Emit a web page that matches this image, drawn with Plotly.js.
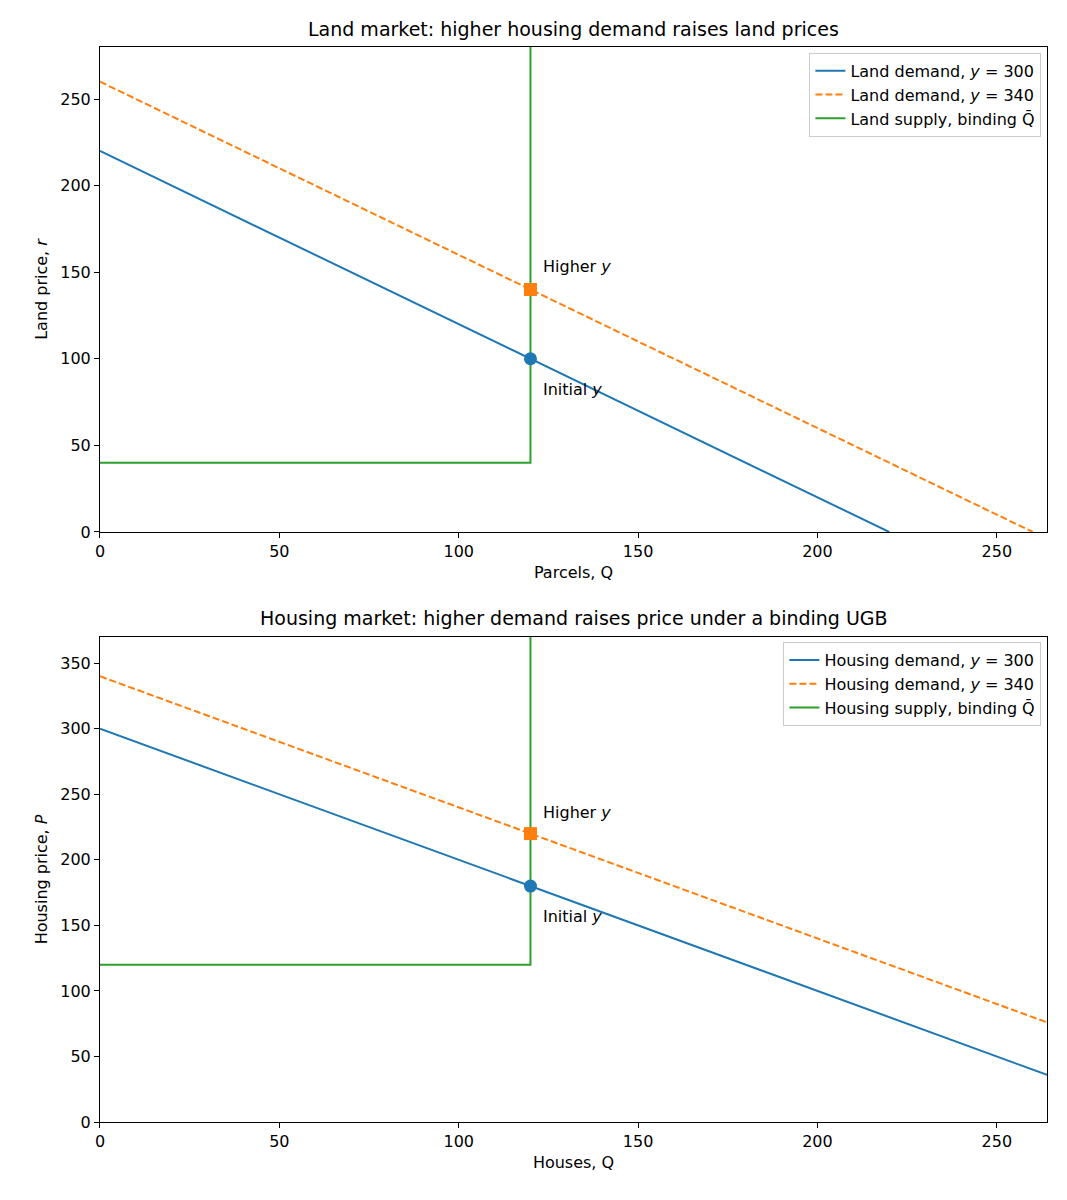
<!DOCTYPE html>
<html>
<head>
<meta charset="utf-8">
<script src="https://cdn.plot.ly/plotly-3.0.1.min.js"></script>
<style>body{margin:0;background:#fff}#chart{width:1067px;height:1200px}</style>
</head>
<body>
<div id="chart"></div>
<script>
// Land market
var landQ = [0, 220];
var landDemand300 = [220, 0];
var landQHigh = [0, 260];
var landDemand340 = [260, 0];
var landSupplyQ = [0, 120, 120];
var landSupplyR = [40, 40, 280];
var landEqQ = [120], landEqLow = [100], landEqHigh = [140];

// Housing market
var houseQ = [0, 264];
var houseDemand300 = [300, 36];
var houseDemand340 = [340, 76];
var houseSupplyQ = [0, 120, 120];
var houseSupplyP = [120, 120, 370];
var houseEqQ = [120], houseEqLow = [180], houseEqHigh = [220];

var blue = "#1f77b4", orange = "#ff7f0e", green = "#2ca02c";
var font = { family: "DejaVu Sans", size: 16, color: "#000" };
var titleFont = { family: "DejaVu Sans", size: 19, color: "#000" };

function line(x, y, color, dash, name, xa, ya, leg) {
    return { x: x, y: y, mode: "lines", type: "scatter", name: name,
        line: { color: color, width: 2, dash: dash }, xaxis: xa, yaxis: ya, legend: leg };
}
function dot(x, y, color, symbol, xa, ya) {
    return { x: x, y: y, mode: "markers", type: "scatter", showlegend: false,
        marker: { color: color, size: 13, symbol: symbol }, xaxis: xa, yaxis: ya };
}

var dash = "7px,3px";
var traces = [
    line(landQ, landDemand300, blue, "solid", "Land demand, <i>y</i> = 300", "x", "y", "legend"),
    line(landQHigh, landDemand340, orange, dash, "Land demand, <i>y</i> = 340", "x", "y", "legend"),
    line(landSupplyQ, landSupplyR, green, "solid", "Land supply, binding Q̄", "x", "y", "legend"),
    dot(landEqQ, landEqLow, blue, "circle", "x", "y"),
    dot(landEqQ, landEqHigh, orange, "square", "x", "y"),
    line(houseQ, houseDemand300, blue, "solid", "Housing demand, <i>y</i> = 300", "x2", "y2", "legend2"),
    line(houseQ, houseDemand340, orange, dash, "Housing demand, <i>y</i> = 340", "x2", "y2", "legend2"),
    line(houseSupplyQ, houseSupplyP, green, "solid", "Housing supply, binding Q̄", "x2", "y2", "legend2"),
    dot(houseEqQ, houseEqLow, blue, "circle", "x2", "y2"),
    dot(houseEqQ, houseEqHigh, orange, "square", "x2", "y2")
];

function axis(extra) {
    var a = { showgrid: false, zeroline: false, showline: true, mirror: true,
        linecolor: "#000", linewidth: 1, ticks: "outside", ticklen: 5,
        tickcolor: "#000", tickfont: font };
    for (var k in extra) a[k] = extra[k];
    return a;
}
var legendStyle = { font: font, bgcolor: "rgba(255,255,255,0.8)", bordercolor: "#ccc",
    borderwidth: 1, xanchor: "right", yanchor: "top" };

var layout = {
    width: 1067, height: 1200, paper_bgcolor: "#fff", plot_bgcolor: "#fff",
    margin: { l: 0, r: 0, t: 0, b: 0 }, font: font,
    xaxis: axis({ domain: [0.0937, 0.9813], range: [0, 264], anchor: "y", dtick: 50,
        title: { text: "Parcels, Q", font: font, standoff: 6 } }),
    yaxis: axis({ domain: [0.5567, 0.9608], range: [0, 280], anchor: "x", dtick: 50,
        title: { text: "Land price, <i>r</i>", font: font, standoff: 8 } }),
    xaxis2: axis({ domain: [0.0937, 0.9813], range: [0, 264], anchor: "y2", dtick: 50,
        title: { text: "Houses, Q", font: font, standoff: 6 } }),
    yaxis2: axis({ domain: [0.065, 0.4692], range: [0, 370], anchor: "x2", dtick: 50,
        title: { text: "Housing price, <i>P</i>", font: font, standoff: 8 } }),
    legend: Object.assign({ x: 0.976, y: 0.956 }, legendStyle),
    legend2: Object.assign({ x: 0.976, y: 0.465 }, legendStyle),
    annotations: [
        { text: "Land market: higher housing demand raises land prices", xref: "paper", yref: "paper",
          x: 0.5375, y: 0.965, xanchor: "center", yanchor: "bottom", showarrow: false, font: titleFont },
        { text: "Housing market: higher demand raises price under a binding UGB", xref: "paper", yref: "paper",
          x: 0.5375, y: 0.474, xanchor: "center", yanchor: "bottom", showarrow: false, font: titleFont },
        { text: "Higher <i>y</i>", x: 123, y: 153, xref: "x", yref: "y", xanchor: "left", showarrow: false, font: font },
        { text: "Initial <i>y</i>", x: 123, y: 82, xref: "x", yref: "y", xanchor: "left", showarrow: false, font: font },
        { text: "Higher <i>y</i>", x: 123, y: 236, xref: "x2", yref: "y2", xanchor: "left", showarrow: false, font: font },
        { text: "Initial <i>y</i>", x: 123, y: 157, xref: "x2", yref: "y2", xanchor: "left", showarrow: false, font: font }
    ]
};

Plotly.newPlot("chart", traces, layout, { staticPlot: true });
</script>
</body>
</html>
